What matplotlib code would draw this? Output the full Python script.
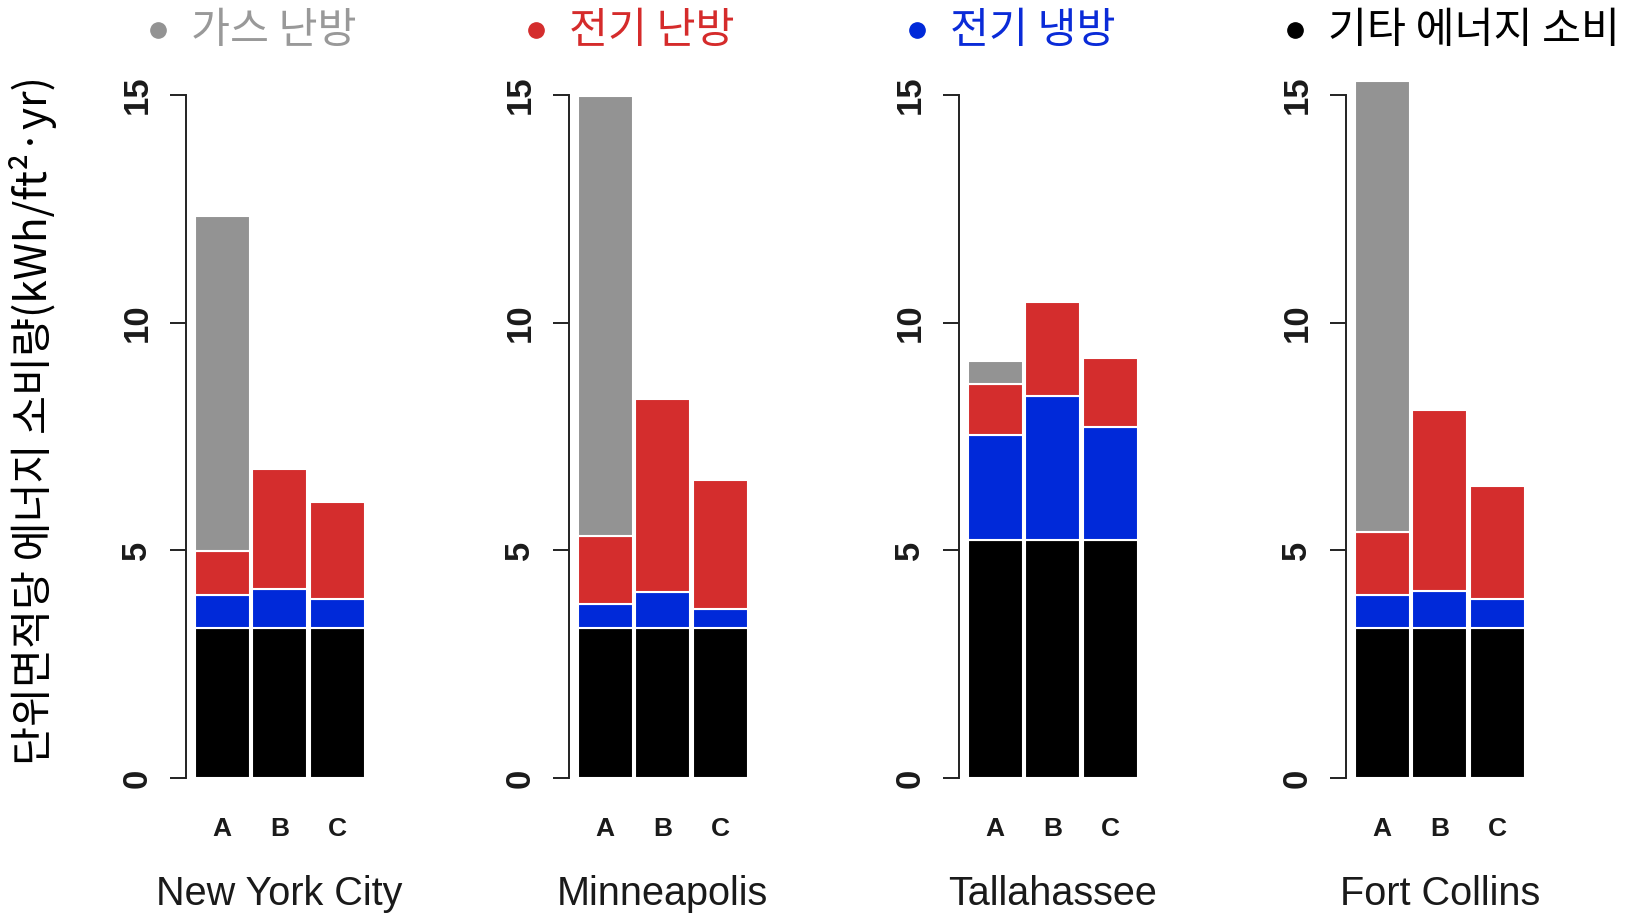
import numpy as np
import matplotlib
matplotlib.use('Agg')
import matplotlib.pyplot as plt

cities = ['New York City', 'Minneapolis', 'Tallahassee', 'Fort Collins']
cases = ['A', 'B', 'C']

# kWh/ft2.yr by end use; one row per city, columns are cases A, B, C
other = [[3.30, 3.30, 3.30], [3.30, 3.30, 3.30], [5.22, 5.22, 5.22], [3.30, 3.30, 3.30]]
elec_cool = [[0.72, 0.85, 0.63], [0.52, 0.78, 0.40], [2.30, 3.17, 2.49], [0.72, 0.80, 0.62]]
elec_heat = [[0.96, 2.63, 2.12], [1.50, 4.23, 2.85], [1.12, 2.05, 1.51], [1.38, 3.97, 2.50]]
gas_heat = [[7.35, 0, 0], [9.65, 0, 0], [0.52, 0, 0], [9.90, 0, 0]]

legend_labels = ['가스 난방', '전기 난방', '전기 냉방', '기타 에너지 소비']
bar_colors = ['#939393', '#d42d2d', '#0029d9', '#000000']
text_colors = ['#999999', '#d52b2b', '#0a2bd8', '#000000']

W, H = 1631, 914
fig = plt.figure(figsize=(W / 100, H / 100), dpi=100)

kr = ['Noto Sans CJK KR', 'DejaVu Sans']
latin = ['Liberation Sans', 'DejaVu Sans']

lefts = [186, 569, 959, 1346]   # pixel x of each left spine
pitch = 57.5                    # pixels per bar slot
xlo, xhi = -0.63, 2.6
bottom_px, px_per_unit = 778, 45.55
ymax = 16

for i, city in enumerate(cities):
    ax = fig.add_axes([lefts[i] / W, (H - bottom_px) / H,
                       (xhi - xlo) * pitch / W, ymax * px_per_unit / H])
    x = np.arange(len(cases))
    base = np.zeros(len(cases))
    for vals, col in zip([other[i], elec_cool[i], elec_heat[i], gas_heat[i]],
                         bar_colors[::-1]):
        vals = np.array(vals, dtype=float)
        m = vals > 0
        ax.bar(x[m], vals[m], bottom=base[m], width=0.95, color=col,
               edgecolor='white', linewidth=1.5)
        base += vals

    ax.set_xlim(xlo, xhi)
    ax.set_ylim(0, ymax)
    for s in ['top', 'right', 'bottom']:
        ax.spines[s].set_visible(False)
    ax.spines['left'].set_bounds(0, 15)
    ax.spines['left'].set_linewidth(1.4)
    ax.spines['left'].set_color('#222222')

    ax.set_yticks([0, 5, 10, 15])
    ax.tick_params(axis='y', length=11.5, width=1.4, color='#222222', pad=12)
    for lab in ax.get_yticklabels():
        lab.set_rotation(90)
        lab.set_va('center')
        lab.set_ha('right')
        lab.set_family(latin)
        lab.set_fontsize(25)
        lab.set_fontweight('bold')
        lab.set_color('#1a1a1a')

    ax.set_xticks(x)
    ax.set_xticklabels(cases, family=latin, fontsize=19, fontweight='bold',
                       color='#1a1a1a')
    ax.tick_params(axis='x', length=0, pad=28)
    ax.patch.set_visible(False)

    ax.text(1, -(894 - bottom_px) / (ymax * px_per_unit), city,
            transform=ax.get_xaxis_transform(), ha='center', va='center',
            family=latin, fontsize=28.5, color='#1a1a1a')

# legend row across the top
lax = fig.add_axes([0, 0, 1, 1])
lax.set_xlim(0, W)
lax.set_ylim(H, 0)
lax.axis('off')
marker_x = [158, 536, 917, 1295]
for mx, lab, mc, tc in zip(marker_x, legend_labels, bar_colors, text_colors):
    lax.plot(mx, 30, 'o', ms=11, color=mc)
    lax.text(mx + 33, 31, lab, color=tc, fontsize=30.5, family=kr,
             ha='left', va='center')

fig.text(33 / W, 1 - 421 / H, '단위면적당 에너지 소비량(kWh/ft²·yr)',
         rotation=90, ha='center', va='center', fontsize=30.5, family=kr)

fig.savefig('out.png', dpi=100, facecolor='white')
